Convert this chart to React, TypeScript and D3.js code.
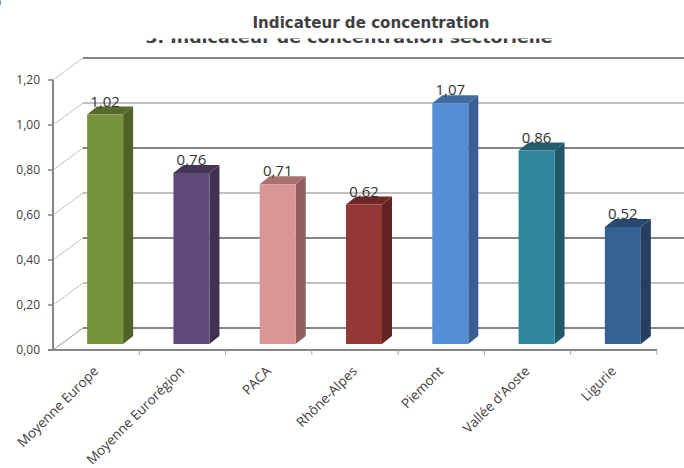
import * as d3 from 'd3'
import React from 'react'

const categories = ['Moyenne Europe', 'Moyenne Eurorégion', 'PACA', 'Rhône-Alpes', 'Piemont', "Vallée d'Aoste", 'Ligurie']
const values = [1.02, 0.76, 0.71, 0.62, 1.07, 0.86, 0.52]
const frontColors = ['#77933C', '#604A7B', '#D99694', '#953735', '#558ED5', '#31859C', '#376092']
const sideColors = ['#4F6228', '#3F3151', '#8F5E5D', '#632423', '#376092', '#215968', '#243F60']
const topColors = ['#566B2C', '#463658', '#A87170', '#6E2927', '#3F6BA0', '#245F70', '#294A70']
const yTicks = [0, 0.2, 0.4, 0.6, 0.8, 1.0, 1.2]

const W = 684
const H = 468
const fmt = (v: number) => v.toFixed(2).replace('.', ',')

const App = () => {
  const y = d3.scaleLinear().domain([0, 1.2]).range([350, 80])
  const x = d3.scaleBand<string>().domain(categories).range([53, 657])
  const wallDx = 30
  const wallDy = -22
  const barW = 36
  const barOffX = 9
  const barOffY = -6
  const depthX = 10
  const depthY = -8
  const font = '"Open Sans", sans-serif'
  const titleFont = '"DejaVu Sans", sans-serif'

  return (
    <svg width={W} height={H} style={{ position: 'absolute', left: 0, top: 0 }}>
      <defs>
        <clipPath id="cutTitle">
          <rect x={0} y={38.5} width={W} height={6} />
        </clipPath>
      </defs>
      <rect width={W} height={H} fill="#fff" />
      <text x={-4} y={6} fontFamily={font} fontSize={9} fill="#404040">0</text>

      {/* title, the second line is hidden behind the first */}
      <text x={371} y={28} textAnchor="middle" fontFamily={titleFont} fontWeight="bold" fontSize={15} fill="#404040" textLength={237} lengthAdjust="spacingAndGlyphs">
        Indicateur de concentration
      </text>
      <text x={349} y={43} textAnchor="middle" clipPath="url(#cutTitle)" fontFamily={titleFont} fontWeight="bold" fontSize={15} fill="#404040" textLength={407} lengthAdjust="spacingAndGlyphs">
        3. Indicateur de concentration sectorielle
      </text>

      {/* back wall gridlines */}
      {yTicks.map((t, i) => (
        <line key={'g' + i} x1={53 + wallDx} x2={W} y1={y(t) + wallDy} y2={y(t) + wallDy}
          stroke={i % 2 === 0 ? '#868686' : '#c0c0c0'} strokeWidth={2} />
      ))}
      {/* side wall diagonals */}
      {yTicks.map((t, i) => (
        <line key={'d' + i} x1={53} y1={y(t)} x2={53 + wallDx} y2={y(t) + wallDy}
          stroke="#a6a6a6" strokeWidth={1} strokeDasharray="2,1" />
      ))}

      {/* bars */}
      {categories.map((c, i) => {
        const cx = (x(c) as number) + x.bandwidth() / 2
        const x0 = cx - barW / 2 + barOffX
        const x1 = x0 + barW
        const yb = y(0) + barOffY
        const yt = y(values[i]) + barOffY
        return (
          <g key={c}>
            <polygon points={`${x1},${yt} ${x1 + depthX},${yt + depthY} ${x1 + depthX},${yb + depthY} ${x1},${yb}`} fill={sideColors[i]} />
            <polygon points={`${x0},${yt} ${x0 + depthX},${yt + depthY} ${x1 + depthX},${yt + depthY} ${x1},${yt}`} fill={topColors[i]} />
            <rect x={x0} y={yt} width={barW} height={yb - yt} fill={frontColors[i]} />
            <text x={x0 + barW / 2} y={yt - 8} textAnchor="middle" fontFamily={font} fontSize={15} fill="#333">
              {fmt(values[i])}
            </text>
          </g>
        )
      })}

      {/* floor & axes */}
      <line x1={53} y1={350} x2={53 + wallDx} y2={350 + wallDy} stroke="#a6a6a6" strokeWidth={1} />
      <line x1={53} x2={53} y1={y(1.2)} y2={y(0)} stroke="#868686" strokeWidth={2} />
      <line x1={48} x2={657} y1={y(0)} y2={y(0)} stroke="#868686" strokeWidth={2} />
      {yTicks.map((t, i) => (
        <g key={'yt' + i}>
          <line x1={48} x2={53} y1={y(t)} y2={y(t)} stroke="#868686" strokeWidth={1.5} />
          <text x={40} y={y(t) + 4} textAnchor="end" fontFamily={font} fontSize={12} fill="#404040">{fmt(t)}</text>
        </g>
      ))}
      {categories.map((c) => (
        <line key={'xt' + c} x1={(x(c) as number) + x.bandwidth()} x2={(x(c) as number) + x.bandwidth()} y1={y(0)} y2={y(0) + 5} stroke="#a6a6a6" strokeWidth={1} />
      ))}
      {categories.map((c) => {
        const cx = (x(c) as number) + x.bandwidth() / 2 + 3
        return (
          <text key={'xl' + c} transform={`translate(${cx},${y(0) + 22}) rotate(-45)`} textAnchor="end"
            fontFamily={font} fontSize={13.5} fill="#404040">{c}</text>
        )
      })}
    </svg>
  )
}

export default App
